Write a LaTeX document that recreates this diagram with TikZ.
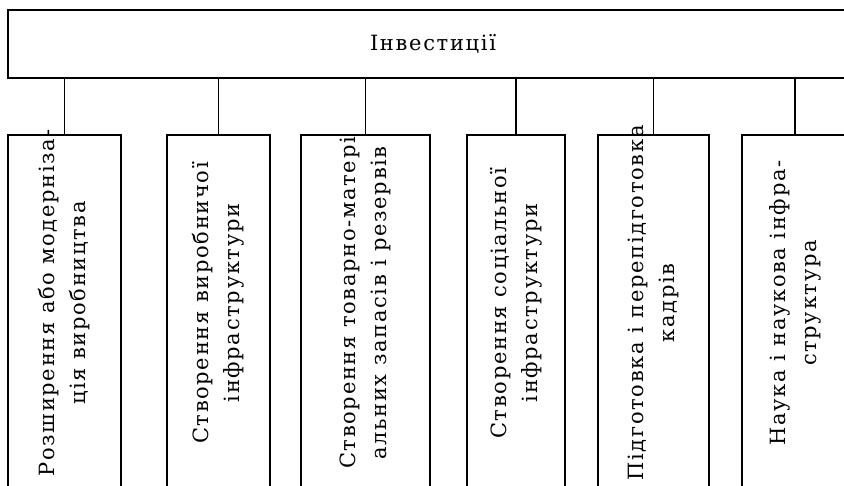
\documentclass[tikz,border=0pt]{standalone}
\usepackage{fontspec}
\setmainfont{DejaVu Serif}
\newfontfamily\schemefont{DejaVu Serif}[LetterSpace=8]
\usetikzlibrary{positioning,calc}

\tikzset{
  topbox/.style={draw, rectangle, inner sep=0pt, minimum height=68pt,
    font=\schemefont\fontsize{21}{31}\selectfont},
  childbox/.style={draw, rectangle, inner sep=0pt, minimum height=360pt},
  boxtext/.style={rotate=90, align=center, inner sep=0pt,
    font=\schemefont\fontsize{21}{31}\selectfont},
}

\begin{document}
\begin{tikzpicture}[x=1pt,y=1pt,line width=1.6pt]
\useasboundingbox (0,0) rectangle (844,485);
\clip (0,0) rectangle (844,485);

% top box
\node[topbox, minimum width=850pt] (inv) at (433,441) {Інвестиції};

% child boxes
\node[childbox, minimum width=113pt] (c1) at (64.5,170) {};
\node[childbox, minimum width=103pt] (c2) at (218.5,170) {};
\node[childbox, minimum width=129pt] (c3) at (365.5,170) {};
\node[childbox, minimum width=98pt] (c4) at (516,170) {};
\node[childbox, minimum width=111pt] (c5) at (653.5,170) {};
\node[childbox, minimum width=106pt] (c6) at (795,170) {};

% connectors
\foreach \c in {c1,c2,c3,c4,c5,c6}
  \draw (inv.south -| \c.north) -- (\c.north);

% texts
\node[boxtext] (t1) at (64.5,182) {Розширення або модерніза-\\ція виробництва};
\node[boxtext] (t2) at (218.5,182) {Створення виробничої\\інфраструктури};
\node[boxtext] (t3) at (365.5,182) {Створення товарно-матері\\альних запасів і резервів};
\node[boxtext] (t4) at (516,182) {Створення соціальної\\інфраструктури};
\node[boxtext] (t5) at (653.5,182) {Підготовка і перепідготовка\\кадрів};
\node[boxtext] (t6) at (795,182) {Наука і наукова інфра-\\структура};
\end{tikzpicture}
\end{document}
